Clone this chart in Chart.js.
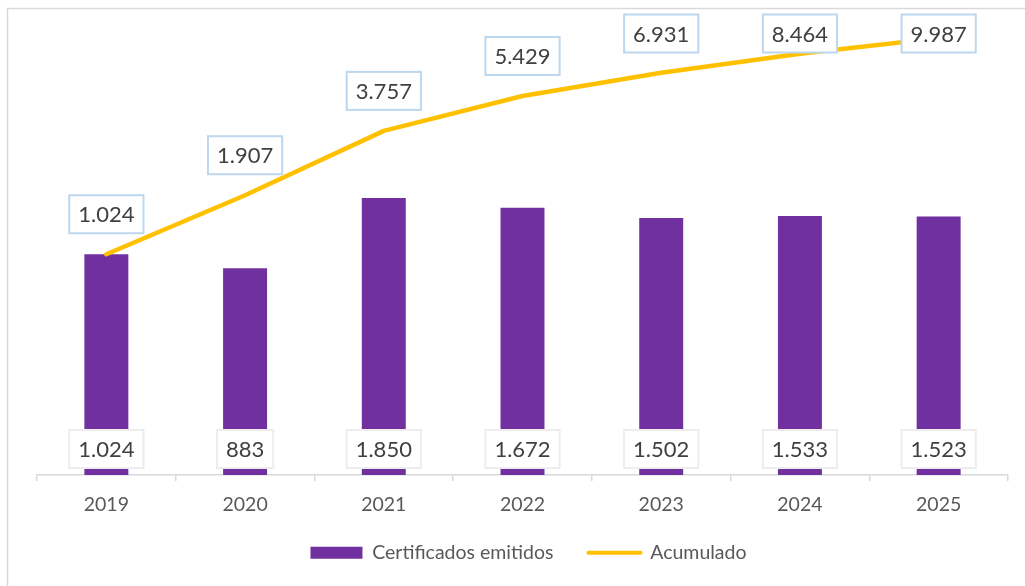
<!DOCTYPE html>
<html>
<head>
<meta charset="utf-8">
<title>Certificados emitidos</title>
<script src="https://cdn.jsdelivr.net/npm/chart.js@4/dist/chart.umd.min.js"></script>
<style>
    html, body { margin: 0; padding: 0; background: #fff; }
    #wrap { position: relative; width: 1025px; height: 586px; }
</style>
</head>
<body>
<div id="wrap"><canvas id="chart"></canvas></div>
<script>
var years = ['2019', '2020', '2021', '2022', '2023', '2024', '2025'];
var certificados = [1024, 883, 1850, 1672, 1502, 1533, 1523];
var acumulado = [1024, 1907, 3757, 5429, 6931, 8464, 9987];

var FONT = 'Lato, "Open Sans", sans-serif';

function fmt(v) {
    // separador de miles con punto
    return String(v).replace(/\B(?=(\d{3})+(?!\d))/g, '.');
}

function drawBox(ctx, text, cx, cy, border) {
    ctx.font = '22px ' + FONT;
    var w = ctx.measureText(text).width + 18;
    var h = 38;
    ctx.fillStyle = '#ffffff';
    ctx.fillRect(cx - w / 2, cy - h / 2, w, h);
    ctx.lineWidth = 2;
    ctx.strokeStyle = border;
    ctx.strokeRect(cx - w / 2, cy - h / 2, w, h);
    ctx.fillStyle = '#404040';
    ctx.textAlign = 'center';
    ctx.textBaseline = 'middle';
    ctx.fillText(text, cx, cy + 1);
}

// marco exterior del gráfico
var framePlugin = {
    id: 'frame',
    afterLayout: function (chart) {
        // recolocar la leyenda como en Excel
        if (chart.legend) {
            chart.legend.left += 6;
            chart.legend.right += 6;
            chart.legend.top -= 9;
            chart.legend.bottom -= 9;
        }
    },
    beforeDraw: function (chart) {
        var ctx = chart.ctx;
        ctx.save();
        ctx.fillStyle = '#ffffff';
        ctx.fillRect(0, 0, chart.width, chart.height);
        ctx.strokeStyle = '#D9D9D9';
        ctx.lineWidth = 1.5;
        ctx.beginPath();
        ctx.moveTo(7.5, chart.height);
        ctx.lineTo(7.5, 8.5);
        ctx.lineTo(chart.width, 8.5);
        ctx.stroke();
        ctx.restore();
    }
};

// etiquetas de datos
var labelPlugin = {
    id: 'boxLabels',
    afterDatasetsDraw: function (chart) {
        var ctx = chart.ctx;
        var area = chart.chartArea;
        ctx.save();
        var barMeta = chart.getDatasetMeta(0);
        barMeta.data.forEach(function (el, i) {
            drawBox(ctx, fmt(certificados[i]), el.x, area.bottom - 26, '#EDEDED');
        });
        var lineMeta = chart.getDatasetMeta(1);
        lineMeta.data.forEach(function (pt, i) {
            var cy = Math.max(pt.y - 40, 33.5);
            drawBox(ctx, fmt(acumulado[i]), pt.x, cy, '#BDD7EE');
        });
        ctx.restore();
    }
};

var ctx = document.getElementById('chart').getContext('2d');
var chart = new Chart(ctx, {
    data: {
        labels: years,
        datasets: [
            {
                type: 'bar',
                label: 'Certificados emitidos',
                data: certificados,
                backgroundColor: '#7030A0',
                borderWidth: 0,
                barPercentage: 0.317,
                categoryPercentage: 1,
                order: 2
            },
            {
                type: 'line',
                label: 'Acumulado',
                data: acumulado,
                borderColor: '#FFC000',
                backgroundColor: '#FFC000',
                borderWidth: 4.5,
                borderCapStyle: 'round',
                borderJoinStyle: 'round',
                pointRadius: 0,
                tension: 0,
                order: 1
            }
        ]
    },
    options: {
        responsive: true,
        maintainAspectRatio: false,
        animation: false,
        layout: {
            padding: { top: 38, left: 37, right: 17, bottom: 4.5 }
        },
        scales: {
            x: {
                type: 'category',
                offset: true,
                grid: {
                    offset: true,
                    drawOnChartArea: false,
                    drawTicks: true,
                    tickLength: 6,
                    color: '#D9D9D9',
                    lineWidth: 1.5
                },
                border: { display: true, color: '#D9D9D9', width: 1.5 },
                ticks: {
                    color: '#595959',
                    padding: 12,
                    maxRotation: 0,
                    font: { family: FONT, size: 19.5 }
                },
                afterFit: function (scale) {
                    scale.height = 42;
                }
            },
            y: {
                type: 'logarithmic',
                display: false,
                min: 100,
                max: 10000
            }
        },
        plugins: {
            tooltip: { enabled: false },
            legend: {
                position: 'bottom',
                labels: {
                    color: '#595959',
                    font: { family: FONT, size: 19.5 },
                    usePointStyle: true,
                    pointStyleWidth: 52,
                    boxHeight: 12,
                    padding: 35,
                    sort: function (a, b) { return a.datasetIndex - b.datasetIndex; },
                    generateLabels: function (c) {
                        var items = Chart.defaults.plugins.legend.labels.generateLabels(c);
                        items.forEach(function (it) {
                            if (it.datasetIndex === 0) {
                                it.pointStyle = 'rect';
                                it.lineWidth = 0;
                                it.fillStyle = '#7030A0';
                                it.strokeStyle = '#7030A0';
                            } else {
                                it.pointStyle = 'line';
                                it.lineWidth = 4;
                                it.strokeStyle = '#FFC000';
                                it.lineCap = 'round';
                            }
                        });
                        return items;
                    }
                }
            }
        }
    },
    plugins: [framePlugin, labelPlugin]
});
</script>
</body>
</html>
